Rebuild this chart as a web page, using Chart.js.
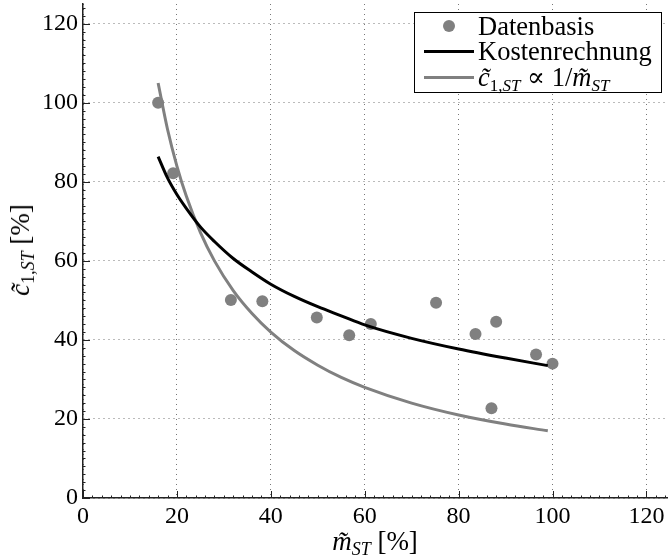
<!DOCTYPE html>
<html>
<head>
<meta charset="utf-8">
<script src="https://cdn.jsdelivr.net/npm/chart.js"></script>
<title>Kosten</title>
<style>
  body { margin: 0; background: #fff; }
  #wrap { position: relative; width: 668px; height: 560px; font-family: "Liberation Serif", "DejaVu Serif", serif; color: #000; }
  #myChart { position: absolute; left: 0; top: 0; }
  .lbl { position: absolute; font-size: 27px; white-space: nowrap; line-height: 1; }
  .lbl sub { font-size: 18px; vertical-align: -5px; }
  #xTitle { left: 375px; top: 528px; transform: translateX(-50%); }
  #yTitle { left: 22px; top: 250px; transform: translate(-50%, -50%) rotate(-90deg); }
  #legend { position: absolute; left: 414px; top: 12px; width: 248px; height: 81px; border: 1.5px solid #000; background: #fff; box-sizing: border-box; }
  .row { position: absolute; left: 0; height: 26px; width: 100%; font-size: 26.5px; line-height: 26px; }
  .row .txt { position: absolute; left: 63px; top: 0; white-space: nowrap; }
  .row .sym { position: absolute; }
  .row sub { font-size: 17px; vertical-align: -5px; }
</style>
</head>
<body>
<div id="wrap">
  <canvas id="myChart" width="668" height="560"></canvas>
  <div class="lbl" id="xTitle"><i>m̃</i><sub><i>ST</i></sub> [%]</div>
  <div class="lbl" id="yTitle"><i>c̃</i><sub>1,<i>ST</i></sub> [%]</div>
  <div id="legend">
    <div class="row" style="top:0px"><span class="sym" style="left:28px;top:7px;width:12px;height:12px;border-radius:6px;background:#808080"></span><span class="txt">Datenbasis</span></div>
    <div class="row" style="top:25px"><span class="sym" style="left:9px;top:12px;width:50px;height:3px;background:#000"></span><span class="txt">Kostenrechnung</span></div>
    <div class="row" style="top:51px"><span class="sym" style="left:9px;top:12px;width:50px;height:3px;background:#808080"></span><span class="txt"><i>c̃</i><sub>1,<i>ST</i></sub> ∝ 1/<i>m̃</i><sub><i>ST</i></sub></span></div>
  </div>
</div>

<script>
// Datenbasis (Messpunkte)
const dataX = [16.0, 19.2, 31.5, 38.2, 49.8, 56.7, 61.3, 75.2, 83.6, 88.0, 87.0, 96.5, 100.0];
const dataY = [100.0, 82.2, 50.1, 49.8, 45.7, 41.2, 44.0, 49.4, 41.5, 44.6, 22.7, 36.3, 34.0];

// Kurven
const curveX   = [16, 18, 20, 22, 25, 28, 32, 36, 40, 45, 50, 55, 60, 70, 80, 90, 99];
const costY    = [86.4, 81.0, 76.8, 73.3, 68.6, 64.9, 60.6, 57.2, 54.1, 51.0, 48.4, 46.1, 43.8, 40.4, 37.7, 35.4, 33.5];
const inverseY = [105, 93.3, 84, 76.4, 67.2, 60, 52.5, 46.7, 42, 37.3, 33.6, 30.5, 28, 24, 21, 18.7, 17.0];

const xTicks = [0, 20, 40, 60, 80, 100, 120];
const yTicks = [0, 20, 40, 60, 80, 100, 120];

const serif = '"Liberation Serif", "DejaVu Serif", serif';
Chart.defaults.font.family = serif;

const toPts = (xs, ys) => xs.map((x, i) => ({x: x, y: ys[i]}));

// innenliegende Ticks (Matlab-Stil)
const innerTicks = {
  id: 'innerTicks',
  afterDraw(chart) {
    const ctx = chart.ctx;
    const a = chart.chartArea;
    const sx = chart.scales.x, sy = chart.scales.y;
    ctx.save();
    ctx.strokeStyle = '#222';
    ctx.lineWidth = 1;
    for (let v = 0; v <= 125; v += 2) {
      const big = v % 20 === 0;
      const len = big ? 7 : 2.5;
      const px = Math.round(sx.getPixelForValue(v)) + 0.5;
      ctx.beginPath(); ctx.moveTo(px, a.bottom); ctx.lineTo(px, a.bottom - len); ctx.stroke();
      const py = Math.round(sy.getPixelForValue(v)) + 0.5;
      ctx.beginPath(); ctx.moveTo(a.left, py); ctx.lineTo(a.left + len, py); ctx.stroke();
    }
    ctx.restore();
  }
};

const config = {
  type: 'scatter',
  data: {
    datasets: [
      {
        label: 'Kostenrechnung',
        data: toPts(curveX, costY),
        showLine: true,
        borderColor: '#000',
        borderWidth: 3,
        pointRadius: 0,
        cubicInterpolationMode: 'monotone',
        order: 1
      },
      {
        label: 'c1,ST ~ 1/mST',
        data: toPts(curveX, inverseY),
        showLine: true,
        borderColor: '#808080',
        borderWidth: 3,
        pointRadius: 0,
        cubicInterpolationMode: 'monotone',
        order: 2
      },
      {
        label: 'Datenbasis',
        data: toPts(dataX, dataY),
        backgroundColor: '#808080',
        borderColor: '#808080',
        pointRadius: 6,
        pointBorderWidth: 0,
        order: 3
      }
    ]
  },
  options: {
    responsive: false,
    animation: false,
    layout: { autoPadding: false, padding: { top: 4, right: 0, left: 0, bottom: 0 } },
    plugins: { legend: { display: false }, tooltip: { enabled: false } },
    scales: {
      x: {
        type: 'linear',
        min: 0, max: 124.6,
        afterFit: (s) => { s.height = 62; s.paddingLeft = 0; s.paddingRight = 0; },
        afterBuildTicks: (s) => { s.ticks = xTicks.map(v => ({value: v})); },
        grid: { color: '#777', lineWidth: 1, drawTicks: false },
        border: { color: '#222', width: 1.5, dash: [1, 4] },
        ticks: { color: '#000', padding: 4, font: { family: serif, size: 24 } }
      },
      y: {
        type: 'linear',
        min: 0, max: 125,
        afterFit: (s) => { s.width = 83; s.paddingTop = 0; s.paddingBottom = 0; },
        afterBuildTicks: (s) => { s.ticks = yTicks.map(v => ({value: v})); },
        grid: { color: '#777', lineWidth: 1, drawTicks: false },
        border: { color: '#222', width: 1.5, dash: [1, 4] },
        ticks: { color: '#000', padding: 5, font: { family: serif, size: 24 } }
      }
    }
  },
  plugins: [innerTicks]
};

// Schrift erst laden, dann zeichnen
const draw = () => new Chart(document.getElementById('myChart'), config);
if (document.fonts && document.fonts.load) {
  Promise.all([
    document.fonts.load('24px "Liberation Serif"'),
    document.fonts.load('24px "DejaVu Serif"')
  ]).then(draw, draw);
} else {
  draw();
}
</script>
</body>
</html>
